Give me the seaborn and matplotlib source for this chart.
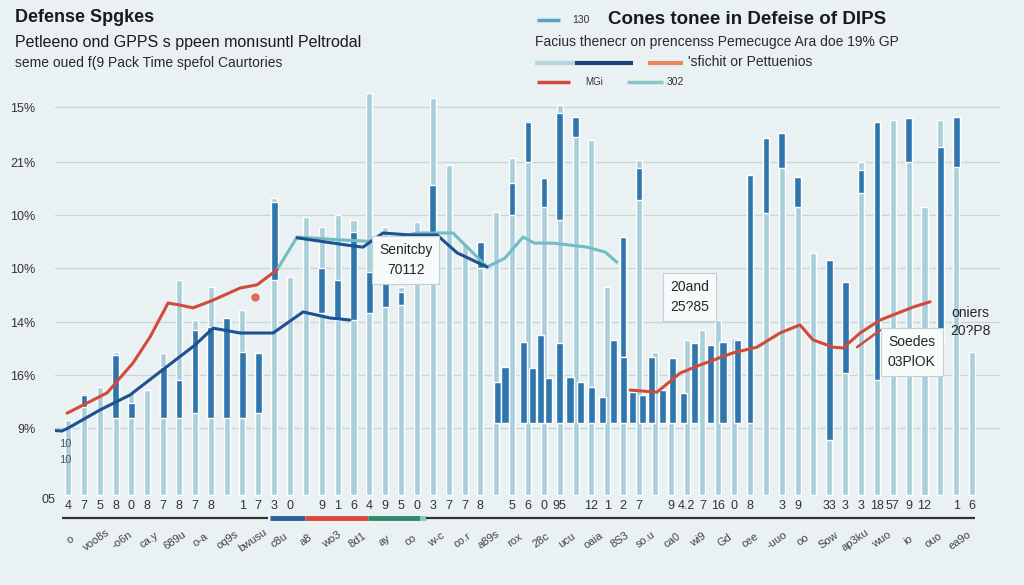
import numpy as np
import pandas as pd
import matplotlib.pyplot as plt
from matplotlib.lines import Line2D
import seaborn as sns

# light bars, one per period
light_top = [18.5, 25.2, 26.7, 35.3, 25.2, 25.9, 35.1, 53.1, 43.2, 51.4,
             43.7, 45.7, 35.1, 73.3, 53.8, 68.6, 66.2, 69.1, 67.9, 99.3,
             66.2, 51.4, 67.4, 98.0, 81.5, 62.2, 62.5, 69.9, 83.2, 92.6,
             78.3, 96.3, 93.3, 87.7, 51.4, 63.7, 82.7, 35.3, 33.3, 38.3,
             40.7, 43.2, 38.8, 79.0, 88.1, 89.4, 78.5, 59.8, 58.0, 52.6,
             82.2, 92.1, 92.6, 93.1, 71.1, 92.6, 93.3, 35.3]
nan = np.nan
dark_low = [nan, 21.7, nan, 19.0, 19.0, nan, 19.0, 19.0, 20.2, 19.0,
            19.0, 19.0, 20.2, 53.1, nan, nan, 44.9, 43.2, 43.2, 44.9,
            46.4, 46.9, nan, 63.0, nan, nan, 56.0, nan, 69.1, 82.2,
            71.1, 67.9, 88.4, nan, nan, 34.1, 72.8, nan, nan, nan,
            nan, nan, nan, 17.8, 69.6, 80.7, 71.1, nan, 13.6, 30.1,
            74.6, 28.4, nan, 82.2, nan, 37.5, 81.0, nan]
dark_high = [nan, 24.7, nan, 34.6, 22.7, nan, 31.6, 28.4, 40.7, 41.5,
             43.7, 35.3, 35.1, 72.3, nan, nan, 56.0, 53.1, 64.9, 55.1,
             52.6, 50.1, nan, 76.5, nan, nan, 62.5, nan, 77.0, 92.1,
             78.3, 94.3, 93.3, nan, nan, 63.7, 80.7, nan, nan, nan,
             nan, nan, nan, 79.0, 88.1, 89.4, 78.5, nan, 58.0, 52.6,
             80.2, 92.1, nan, 93.1, nan, 85.9, 93.3, nan]
tick_labels = ['4', '7', '5', '8', '0', '8', '7', '8', '7', '8', '', '1', '7', '3', '0',
               '', '9', '1', '6', '4', '9', '5', '0', '3', '7', '7', '8', '', '5', '6',
               '0', '95', '', '12', '1', '2', '7', '', '9', '4.2', '7', '16', '0', '8', '',
               '3', '9', '', '33', '3', '3', '18', '57', '9', '12', '', '1', '6']

# dense block of dark bars in the middle
cluster_x = [27.1, 27.55, 28.7, 29.3, 29.8, 30.3, 31.0, 31.65, 32.3, 33.0, 33.7, 34.4,
             35.0, 35.6, 36.2, 36.8, 37.5, 38.1, 38.8, 39.5, 40.5, 41.3, 42.2]
cluster_top = [27.9, 31.6, 37.8, 31.4, 39.5, 28.9, 37.5, 29.1, 27.9, 26.7, 24.2, 38.3,
               34.1, 25.4, 24.7, 34.1, 25.9, 33.8, 25.2, 37.5, 37.0, 37.8, 38.3]
cluster_base = 17.8

# lines
red1_x = [-0.06, 2.46, 4.1, 5.17, 6.31, 7.06, 7.88, 9.14, 10.85, 11.92, 13.18]
red1_y = [20.2, 25.2, 32.6, 39.0, 47.4, 46.9, 46.2, 48.1, 51.1, 51.9, 55.6]
blue1_x = [-1.26, -0.38, 0.0, 2.02, 3.91, 5.8, 8.0, 9.14, 10.85, 12.93, 14.82, 16.52, 17.78]
blue1_y = [16.0, 15.8, 16.5, 21.0, 24.7, 30.4, 37.0, 41.2, 40.0, 40.0, 45.2, 43.7, 43.2]
blue2_x = [14.44, 17.59, 18.6, 19.86, 21.56, 23.27, 24.53, 26.42]
blue2_y = [63.5, 61.7, 61.2, 64.7, 64.2, 64.2, 59.8, 56.3]
teal_x = [13.18, 14.44, 17.15, 19.67, 22.0, 24.27, 26.42, 27.55, 28.69, 29.4, 30.58, 32.72, 33.86, 34.6]
teal_y = [55.6, 63.7, 63.0, 62.5, 64.7, 64.7, 56.3, 58.5, 63.7, 62.2, 62.2, 61.2, 60.0, 57.5]
red2_x = [35.44, 37.14, 38.59, 39.85, 41.93, 43.44, 44.89, 46.15, 46.97, 48.23, 48.87,
          49.94, 51.2, 53.28, 54.35]
red2_y = [25.9, 25.4, 30.1, 32.1, 35.1, 36.5, 40.0, 42.0, 38.3, 36.5, 36.3, 40.0, 43.2, 46.4, 47.7]
red3_x = [49.75, 51.2, 52.9]
red3_y = [36.5, 40.7, 40.7]

ytick_vals = [95.8, 82.2, 69.1, 56.0, 42.7, 29.6, 16.5]
ytick_text = ['15%', '21%', '10%', '10%', '14%', '16%', '9%']

bg = '#e9f1f2'
light_c = '#a9cfdb'
dark_c = '#2f76ad'

sns.set_theme(style='white')
plt.rcParams['font.family'] = ['Liberation Sans', 'DejaVu Sans']

fig = plt.figure(figsize=(10.24, 5.85), dpi=100, facecolor=bg)
W, H = 1024, 585
ax = fig.add_axes([55 / W, (H - 497) / H, 945 / W, (497 - 88) / H])
ax.set_facecolor(bg)

for v in ytick_vals:
    ax.axhline(v, color='#c8d5d7', lw=0.9, zorder=0)

n = len(light_top)
df = pd.DataFrame({'period': np.arange(n), 'top': light_top})
sns.barplot(data=df, x='period', y='top', color=light_c, width=0.38,
            saturation=1, ax=ax, zorder=1)

low = np.array(dark_low)
high = np.array(dark_high)
ok = ~np.isnan(low)
ax.bar(np.arange(n)[ok], high[ok] - low[ok], bottom=low[ok], width=0.42,
       color=dark_c, zorder=2)
ax.bar(cluster_x, np.array(cluster_top) - cluster_base, bottom=cluster_base,
       width=0.45, color=dark_c, zorder=2)

sns.lineplot(x=teal_x, y=teal_y, sort=False, estimator=None, color='#73bcc6', lw=2.2, ax=ax, zorder=3)
sns.lineplot(x=blue1_x, y=blue1_y, sort=False, estimator=None, color='#1f5190', lw=2.2, ax=ax, zorder=4)
sns.lineplot(x=blue2_x, y=blue2_y, sort=False, estimator=None, color='#1f5190', lw=2.2, ax=ax, zorder=4)
sns.lineplot(x=red1_x, y=red1_y, sort=False, estimator=None, color='#d24b3a', lw=2.2, ax=ax, zorder=4)
sns.lineplot(x=red2_x, y=red2_y, sort=False, estimator=None, color='#d24b3a', lw=2.2, ax=ax, zorder=4)
sns.lineplot(x=red3_x, y=red3_y, sort=False, estimator=None, color='#d24b3a', lw=1.8, ax=ax, zorder=4)
ax.plot([11.8], [48.9], 'o', color='#e06a55', ms=5, zorder=4)

box = dict(boxstyle='square,pad=0.5', facecolor='#f7fafa', edgecolor='#c4cfd1', lw=0.8)
ax.text(21.3, 58.0, 'Senitcby\n70112', ha='center', va='center', fontsize=10,
        linespacing=1.5, bbox=box, zorder=5)
ax.text(39.2, 48.9, '20and\n25?85', ha='center', va='center', fontsize=10,
        linespacing=1.5, bbox=box, zorder=5)
ax.text(53.2, 35.3, 'Soedes\n03PlOK', ha='center', va='center', fontsize=10,
        linespacing=1.5, bbox=box, zorder=5)
ax.text(56.9, 42.7, 'oniers\n20?P8', ha='center', va='center', fontsize=10,
        linespacing=1.4, zorder=5)

ax.set_xlim(-0.82, 58.76)
ax.set_ylim(-0.5, 100.5)
ax.set_yticks(ytick_vals)
ax.set_yticklabels(ytick_text, fontsize=9, color='#333333')
ax.set_xticks(np.arange(n))
ax.set_xticklabels(tick_labels, fontsize=9, color='#333333')
ax.tick_params(axis='both', length=0, pad=2)
ax.tick_params(axis='y', pad=14)
ax.set_xlabel('')
ax.set_ylabel('')
for s in ax.spines.values():
    s.set_visible(False)
ax.text(-0.82, -1.2, '05', transform=ax.transData, ha='right', va='center',
        fontsize=9, color='#333333', clip_on=False)
ax.text(0.2, 12.5, '10', ha='right', va='center', fontsize=8, color='#555555')
ax.text(0.2, 8.6, '10', ha='right', va='center', fontsize=8, color='#555555')

def fline(x0, x1, y, color, lw):
    fig.add_artist(Line2D([x0 / W, x1 / W], [1 - y / H, 1 - y / H], color=color, lw=lw,
                          solid_capstyle='butt'))

# axis band below bars
fline(62, 268, 518, '#333333', 1.6)
fline(270, 305, 518, '#2d5f9a', 3.5)
fline(305, 368, 518, '#d9483b', 3.5)
fline(368, 420, 518, '#2e8a6a', 3.5)
fline(420, 426, 518, '#8cc4cc', 3.5)
fline(426, 975, 518, '#333333', 1.6)

garble = ['o', 'voo8s', '-o6n', 'ca.y', '689u', 'o-a', 'oq9s', 'bwusu', 'c8u', 'a8', 'wo3',
          '8d1', 'ay', 'co', 'w-c', 'co.r', 'a89s', 'rox', '28c', 'ucu', 'oaia', '8S3',
          'so.u', 'ca0', 'wi9', 'Gd', 'cee', '-uuo', 'oo', 'Sow', 'ap3ku', 'wuo', 'io',
          'ouo', 'ea9o']
gx = np.linspace(70, 960, len(garble))
for x, s in zip(gx, garble):
    fig.text(x / W, 1 - 540 / H, s, rotation=35, ha='center', va='center', fontsize=8,
             color='#444444')

# titles
fig.text(15 / W, 1 - 18 / H, 'Defense Spgkes', fontsize=13, fontweight='bold',
         color='#1a1a1a', va='center')
fig.text(15 / W, 1 - 42 / H, 'Petleeno ond GPPS s ppeen mon\u0131suntl Peltrodal', fontsize=11.5,
         color='#1a1a1a', va='center')
fig.text(15 / W, 1 - 63 / H, 'seme oued f(9 Pack Time spefol Caurtories', fontsize=10,
         color='#2a2a2a', va='center')
fig.text(608 / W, 1 - 20 / H, 'Cones tonee in Defeise of DIPS', fontsize=13.5, fontweight='bold',
         color='#1a1a1a', va='center')
fig.text(535 / W, 1 - 42 / H, 'Facius thenecr on prencenss Pemecugce Ara doe 19% GP',
         fontsize=10, color='#2a2a2a', va='center')

# legend-like marks
fline(537, 560, 20, '#5a9fc4', 2.5)
fig.text(572 / W, 1 - 20 / H, '130', fontsize=7.5, color='#333333', va='center')
fline(535, 575, 63, '#b5d6df', 3)
fline(575, 633, 63, '#1e3f73', 3)
fline(648, 683, 63, '#e8875a', 3)
fig.text(688 / W, 1 - 62 / H, "'sfichit or Pettuenios", fontsize=10, color='#2a2a2a', va='center')
fline(537, 570, 82, '#d14a3b', 2.5)
fig.text(585 / W, 1 - 82 / H, 'MGi', fontsize=7, color='#333333', va='center')
fline(627, 663, 82, '#8cc4cc', 2.5)
fig.text(667 / W, 1 - 82 / H, '302', fontsize=7.5, color='#333333', va='center')

fig.savefig('out.png', dpi=100, facecolor=bg)
